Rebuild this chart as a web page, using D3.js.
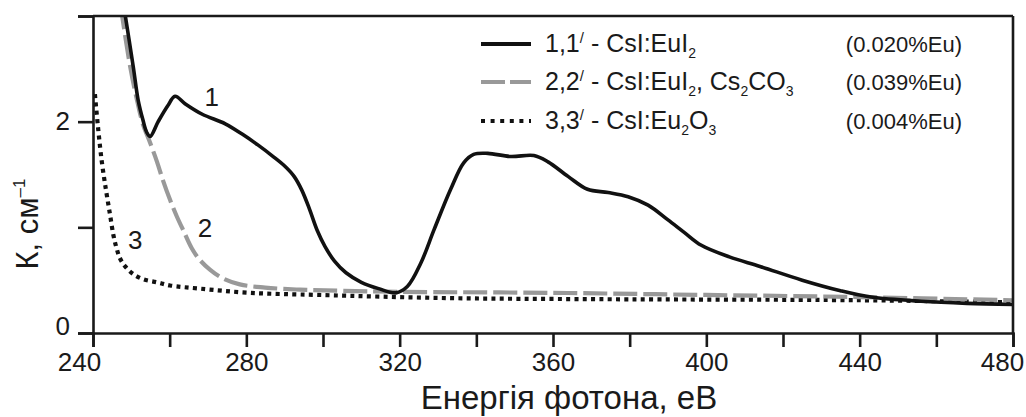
<!DOCTYPE html>
<html><head><meta charset="utf-8">
<script src="https://cdn.jsdelivr.net/npm/d3@7"></script>
<style>
body{margin:0;background:#fff}
svg{display:block}
text{font-family:"Liberation Sans",Arial,Helvetica,sans-serif;fill:#1a1a1a}
</style>
</head><body>
<svg id="chart" width="1026" height="417"></svg>
<script>
// ---- data (photon energy, eV; absorption coefficient K, cm^-1) ----
const energy1 = [248.0, 250.5, 251.8, 253.0, 254.0, 254.9, 257.0, 259.5, 261.4, 264.0, 268.5, 274.5, 279.0, 283.0, 287.0, 290.0, 292.5, 294.5, 296.5, 298.5, 300.5, 303.0, 306.0, 310.0, 314.5, 319.0, 322.0, 325.5, 329.0, 333.3, 336.7, 339.3, 343.0, 349.0, 355.0, 358.7, 364.0, 369.0, 374.4, 379.6, 384.8, 390.0, 394.3, 398.7, 406.0, 414.0, 425.0, 435.0, 443.0, 456.0, 468.0, 480.0];
const absorb1 = [3.10, 2.52, 2.20, 2.02, 1.90, 1.86, 2.00, 2.15, 2.24, 2.17, 2.07, 1.98, 1.88, 1.78, 1.67, 1.58, 1.48, 1.35, 1.17, 0.97, 0.82, 0.68, 0.57, 0.48, 0.42, 0.38, 0.44, 0.66, 0.98, 1.36, 1.61, 1.69, 1.70, 1.67, 1.68, 1.62, 1.48, 1.36, 1.33, 1.29, 1.21, 1.07, 0.95, 0.83, 0.72, 0.63, 0.50, 0.40, 0.34, 0.30, 0.28, 0.27];

const energy2 = [247.2, 249.7, 251.5, 253.0, 254.9, 256.7, 258.3, 260.1, 261.9, 263.7, 265.8, 267.9, 270.5, 273.7, 278.3, 284.9, 294.0, 304.4, 320.0, 360.0, 400.0, 440.0, 480.0];
const absorb2 = [3.10, 2.52, 2.20, 1.98, 1.80, 1.62, 1.44, 1.26, 1.10, 0.96, 0.80, 0.69, 0.60, 0.52, 0.46, 0.43, 0.41, 0.40, 0.39, 0.38, 0.36, 0.34, 0.31];

const energy3 = [240.5, 241.3, 242.3, 243.4, 244.4, 245.3, 246.1, 247.0, 248.4, 250.4, 253.0, 256.7, 260.1, 267.9, 281.0, 299.0, 333.0, 372.0, 440.0, 480.0];
const absorb3 = [2.26, 1.95, 1.62, 1.35, 1.13, 0.93, 0.81, 0.71, 0.63, 0.56, 0.51, 0.48, 0.45, 0.42, 0.38, 0.36, 0.33, 0.32, 0.31, 0.29];

const xTickValues = [240, 260, 280, 300, 320, 340, 360, 380, 400, 420, 440, 460, 480];
const xTickLabels = [240, 280, 320, 360, 400, 440, 480];
const yTickValues = [0, 1, 2, 3];
const yTickLabels = [0, 2];

const seriesNames = ["1", "2", "3"];
const concentrations = ["0.020%Eu", "0.039%Eu", "0.004%Eu"];

const xTitle = "Енергія фотона, еВ";

// ---- layout ----
const svg = d3.select("#chart");
const x = d3.scaleLinear().domain([240, 480]).range([93, 1013]);
const y = d3.scaleLinear().domain([0, 3]).range([333, 16]);

svg.append("defs").append("clipPath").attr("id", "plot")
  .append("rect").attr("x", x(240)).attr("y", y(3)).attr("width", x(480) - x(240)).attr("height", y(0) - y(3));

const styles = [
  {stroke: "#111", width: 3.6, dash: null},
  {stroke: "#999", width: 4.2, dash: "24,6"},
  {stroke: "#111", width: 4.2, dash: "4,4.3"}
];
const series = [
  energy1.map((e, i) => [e, absorb1[i]]),
  energy2.map((e, i) => [e, absorb2[i]]),
  energy3.map((e, i) => [e, absorb3[i]])
];

const line = d3.line().x(d => x(d[0])).y(d => y(d[1])).curve(d3.curveCatmullRom.alpha(0.5));

const g = svg.append("g").attr("clip-path", "url(#plot)");
[2, 1, 0].forEach(i => {
  g.append("path").datum(series[i])
    .attr("fill", "none")
    .attr("stroke", styles[i].stroke)
    .attr("stroke-width", styles[i].width)
    .attr("stroke-dasharray", styles[i].dash)
    .attr("stroke-linejoin", "round")
    .attr("d", line);
});

// ---- axes ----
const xAxis = d3.axisBottom(x).tickValues(xTickValues).tickSize(14).tickPadding(6)
  .tickFormat(d => xTickLabels.includes(d) ? d : "");
const gx = svg.append("g").attr("transform", `translate(0,${y(0)})`).call(xAxis);
const yAxis = d3.axisLeft(y).tickValues(yTickValues).tickSize(15).tickPadding(8)
  .tickFormat(d => yTickLabels.includes(d) ? d : "");
const gy = svg.append("g").attr("transform", `translate(${x(240)},0)`).call(yAxis);

[gx, gy].forEach(a => {
  a.select(".domain").attr("stroke", "#1a1a1a").attr("stroke-width", 2.6);
  a.selectAll(".tick line").attr("stroke", "#1a1a1a").attr("stroke-width", 2.6);
  a.selectAll(".tick text").attr("font-size", 26).attr("fill", "#1a1a1a")
    .attr("font-family", "'Liberation Sans',Arial,sans-serif");
});
gx.selectAll(".tick text").attr("dx", d => d === 240 ? -14 : (d === 480 ? -11 : 0));
gy.selectAll(".tick text").attr("dy", d => d === 0 ? "0.05em" : "0.32em");

// top and right frame
svg.append("line").attr("x1", x(240)).attr("x2", x(480)).attr("y1", y(3)).attr("y2", y(3))
  .attr("stroke", "#1a1a1a").attr("stroke-width", 2.6);
svg.append("line").attr("x1", x(480)).attr("x2", x(480)).attr("y1", y(3)).attr("y2", y(0))
  .attr("stroke", "#1a1a1a").attr("stroke-width", 2.6);

// axis titles
svg.append("text").attr("x", 569).attr("y", 409).attr("text-anchor", "middle")
  .attr("font-size", 33).text(xTitle);
const yt = svg.append("text").attr("transform", "translate(38,224) rotate(-90)")
  .attr("text-anchor", "middle").attr("font-size", 31);
yt.append("tspan").text("К, см");
yt.append("tspan").attr("font-size", 17).attr("dy", -13).text("–1");

// curve labels
const curveLabelPos = [[271, 2.23], [269.2, 0.99], [251, 0.88]];
curveLabelPos.forEach((p, i) => {
  svg.append("text").attr("x", x(p[0])).attr("y", y(p[1])).attr("dy", "0.35em")
    .attr("text-anchor", "middle").attr("font-size", 26).text(seriesNames[i]);
});

// ---- legend ----
const legendRows = [44, 82, 121];
const lg = svg.append("g");
legendRows.forEach((ly, i) => {
  lg.append("line").attr("x1", 481).attr("x2", 531).attr("y1", ly).attr("y2", ly)
    .attr("stroke", styles[i].stroke).attr("stroke-width", 4)
    .attr("stroke-dasharray", i === 1 ? "24,5" : (i === 2 ? "4,5.6" : null));
  lg.append("text").attr("x", 962).attr("y", ly + 8).attr("text-anchor", "end")
    .attr("font-size", 22).text("(" + concentrations[i] + ")");
});

function addLabel(ly, parts) {
  const t = lg.append("text").attr("x", 545).attr("y", ly + 8).attr("font-size", 25);
  let pending = 0;
  parts.forEach(p => {
    if (p.sub) {
      t.append("tspan").attr("font-size", 14).attr("dy", pending + 6).text(p.sub);
      pending = -6;
    } else if (p.sup) {
      t.append("tspan").attr("font-size", 15).attr("dy", pending - 9).text(p.sup);
      pending = 9;
    } else {
      t.append("tspan").attr("dy", pending).text(p.t);
      pending = 0;
    }
  });
}
addLabel(legendRows[0], [{t: "1,1"}, {sup: "/"}, {t: " - CsI:EuI"}, {sub: "2"}]);
addLabel(legendRows[1], [{t: "2,2"}, {sup: "/"}, {t: " - CsI:EuI"}, {sub: "2"}, {t: ", Cs"}, {sub: "2"}, {t: "CO"}, {sub: "3"}]);
addLabel(legendRows[2], [{t: "3,3"}, {sup: "/"}, {t: " - CsI:Eu"}, {sub: "2"}, {t: "O"}, {sub: "3"}]);
</script>
</body></html>
